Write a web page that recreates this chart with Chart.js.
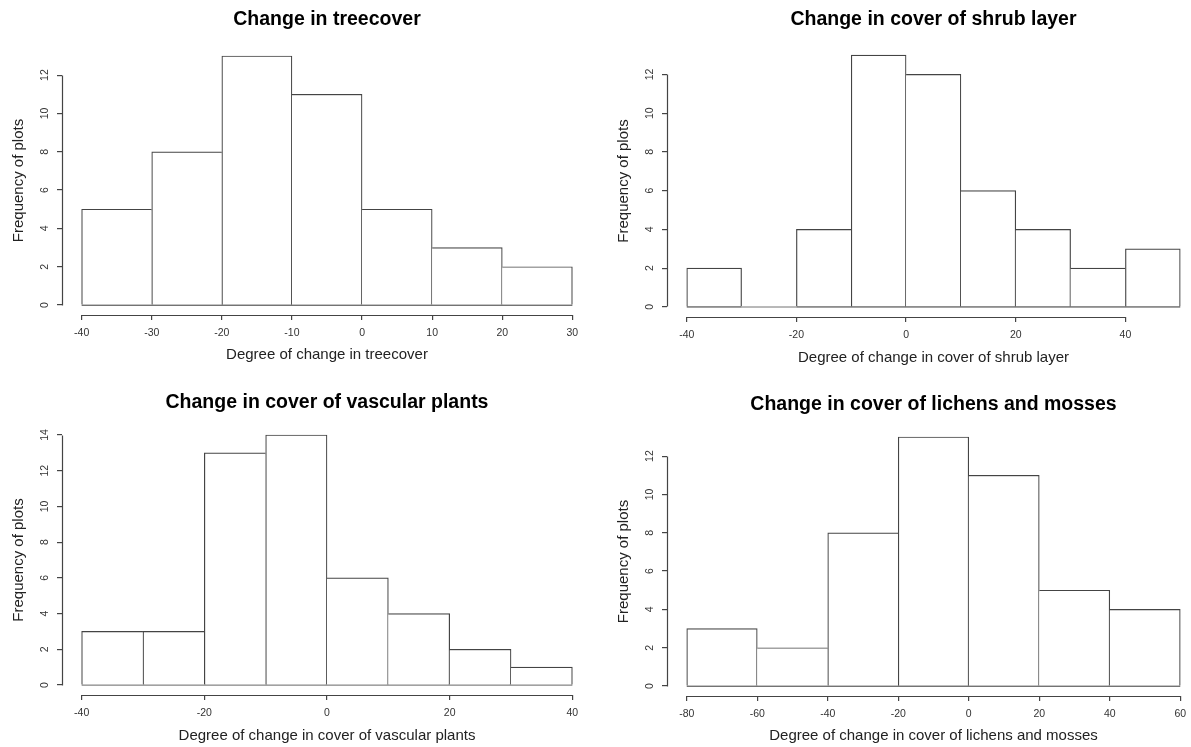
<!DOCTYPE html>
<html>
<head>
<meta charset="utf-8">
<script src="https://cdn.jsdelivr.net/npm/chart.js@4.4.1/dist/chart.umd.min.js"></script>
<style>
  html, body { margin: 0; padding: 0; background: #fff; overflow: hidden; width: 1191px; height: 747px; }
  canvas { position: absolute; }
</style>
</head>
<body>
<script>
// histogram data
const treeBreaks = [-40, -30, -20, -10, 0, 10, 20, 30];
const treeCounts = [5, 8, 13, 11, 5, 3, 2];
const treeXTicks = [-40, -30, -20, -10, 0, 10, 20, 30];
const treeYTicks = [0, 2, 4, 6, 8, 10, 12];

const shrubBreaks = [-40, -30, -20, -10, 0, 10, 20, 30, 40, 50];
const shrubCounts = [2, 0, 4, 13, 12, 6, 4, 2, 3];
const shrubXTicks = [-40, -20, 0, 20, 40];
const shrubYTicks = [0, 2, 4, 6, 8, 10, 12];

const vascBreaks = [-40, -30, -20, -10, 0, 10, 20, 30, 40];
const vascCounts = [3, 3, 13, 14, 6, 4, 2, 1];
const vascXTicks = [-40, -20, 0, 20, 40];
const vascYTicks = [0, 2, 4, 6, 8, 10, 12, 14];

const lichenBreaks = [-80, -60, -40, -20, 0, 20, 40, 60];
const lichenCounts = [3, 2, 8, 13, 11, 5, 4];
const lichenXTicks = [-80, -60, -40, -20, 0, 20, 40, 60];
const lichenYTicks = [0, 2, 4, 6, 8, 10, 12];

const FONT = "'Liberation Sans', Arial, sans-serif";
const LINE = '#444';
const LW = 1.2;
const TICK = '#333';
const TITLE_SIZE = 19.5;
const TITLE_H = 46, XAXIS_H = 58, YAXIS_W = 62;

const panels = [
  { title: 'Change in treecover', xTitle: 'Degree of change in treecover',
    breaks: treeBreaks, counts: treeCounts, xTicks: treeXTicks, yTicks: treeYTicks,
    box: { l: 62, r: 592, t: 46, b: 315, titleY: 20, xTitleY: 355 } },
  { title: 'Change in cover of shrub layer', xTitle: 'Degree of change in cover of shrub layer',
    breaks: shrubBreaks, counts: shrubCounts, xTicks: shrubXTicks, yTicks: shrubYTicks,
    box: { l: 667, r: 1200, t: 45, b: 317, titleY: 20, xTitleY: 358 } },
  { title: 'Change in cover of vascular plants', xTitle: 'Degree of change in cover of vascular plants',
    breaks: vascBreaks, counts: vascCounts, xTicks: vascXTicks, yTicks: vascYTicks,
    box: { l: 62, r: 592, t: 425, b: 695, titleY: 403, xTitleY: 736 } },
  { title: 'Change in cover of lichens and mosses', xTitle: 'Degree of change in cover of lichens and mosses',
    breaks: lichenBreaks, counts: lichenCounts, xTicks: lichenXTicks, yTicks: lichenYTicks,
    box: { l: 667, r: 1200, t: 427, b: 696, titleY: 405, xTitleY: 736 } }
];

function align(px) { return Math.round(px - 0.5) + 0.5; }

// R style axis lines: only from the first to the last tick
const rAxes = {
  id: 'rAxes',
  afterDraw(chart) {
    const { ctx, chartArea, scales: { x, y } } = chart;
    ctx.save();
    ctx.strokeStyle = LINE;
    ctx.lineWidth = LW;
    ctx.beginPath();
    const by = align(chartArea.bottom);
    ctx.moveTo(align(x.getPixelForValue(x.ticks[0].value)), by);
    ctx.lineTo(align(x.getPixelForValue(x.ticks[x.ticks.length - 1].value)), by);
    const lx = align(chartArea.left);
    ctx.moveTo(lx, align(y.getPixelForValue(y.ticks[0].value)));
    ctx.lineTo(lx, align(y.getPixelForValue(y.ticks[y.ticks.length - 1].value)));
    ctx.stroke();
    ctx.restore();
  }
};

panels.forEach(p => {
  const b = p.box;
  const left = b.l - YAXIS_W, top = b.t - TITLE_H;
  const cv = document.createElement('canvas');
  cv.width = b.r - left;
  cv.height = b.b + XAXIS_H - top;
  cv.style.left = left + 'px';
  cv.style.top = top + 'px';
  document.body.appendChild(cv);

  const lo = p.breaks[0], hi = p.breaks[p.breaks.length - 1];
  const xPad = (hi - lo) * 0.04;
  const ymax = Math.max(...p.counts);
  const c = p.counts;
  const titlePadTop = b.titleY - top - TITLE_SIZE * 1.2 / 2;

  new Chart(cv, {
    type: 'bar',
    data: {
      datasets: [{
        type: 'bar',
        data: c.map((v, i) => ({ x: (p.breaks[i] + p.breaks[i + 1]) / 2, y: v })),
        backgroundColor: '#fff',
        borderColor: LINE,
        borderSkipped: false,
        borderWidth: ctx => {
          const i = ctx.dataIndex;
          return {
            top: LW, bottom: 0,
            left: (i === 0 || c[i] >= c[i - 1]) ? LW : 0,
            right: (i === c.length - 1 || c[i] > c[i + 1]) ? LW : 0
          };
        },
        barPercentage: 1,
        categoryPercentage: 1
      }, {
        type: 'line',
        data: [{ x: lo, y: 0 }, { x: hi, y: 0 }],
        borderColor: LINE,
        borderWidth: LW,
        pointRadius: 0
      }]
    },
    options: {
      responsive: false,
      animation: false,
      devicePixelRatio: 1,
      layout: { padding: 0 },
      plugins: {
        legend: { display: false },
        tooltip: { enabled: false },
        title: {
          display: true,
          text: p.title,
          fullSize: false,
          color: '#000',
          font: { family: FONT, size: TITLE_SIZE, weight: 'bold' },
          padding: { top: titlePadTop, bottom: TITLE_H - TITLE_SIZE * 1.2 - titlePadTop }
        }
      },
      scales: {
        x: {
          type: 'linear',
          min: lo - xPad,
          max: hi + xPad,
          offset: false,
          afterBuildTicks: s => { s.ticks = p.xTicks.map(v => ({ value: v })); },
          afterFit: s => { s.height = XAXIS_H; },
          grid: { offset: false, drawOnChartArea: false, drawTicks: true, tickLength: 5, color: LINE, lineWidth: LW },
          border: { display: false },
          ticks: {
            autoSkip: false, maxRotation: 0, padding: 6.7, color: TICK,
            font: { family: FONT, size: 10.5 },
            callback: v => String(v)
          },
          title: {
            display: true, text: p.xTitle, color: '#222',
            font: { family: FONT, size: 15 },
            padding: { top: 0, bottom: b.b + XAXIS_H - b.xTitleY - 9 }
          }
        },
        y: {
          type: 'linear',
          min: -0.04 * ymax,
          max: ymax * 1.04,
          afterBuildTicks: s => { s.ticks = p.yTicks.map(v => ({ value: v })); },
          afterFit: s => { s.width = YAXIS_W; },
          grid: { offset: false, drawOnChartArea: false, drawTicks: true, tickLength: 5, color: LINE, lineWidth: LW },
          border: { display: false },
          ticks: {
            autoSkip: false, minRotation: 90, maxRotation: 90, crossAlign: 'center',
            padding: 6.5, color: TICK,
            font: { family: FONT, size: 10.5 },
            callback: v => String(v)
          },
          title: {
            display: true, text: 'Frequency of plots', color: '#222',
            font: { family: FONT, size: 15 },
            padding: { top: 10, bottom: 0 }
          }
        }
      }
    },
    plugins: [rAxes]
  });
});
</script>
</body>
</html>
